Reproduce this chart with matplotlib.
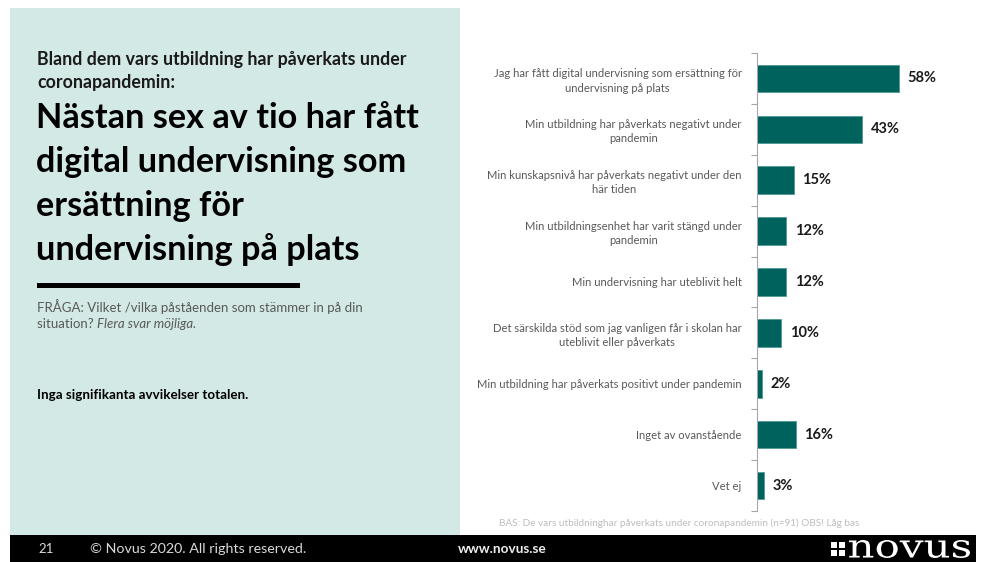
import matplotlib
matplotlib.use("Agg")
import matplotlib.pyplot as plt
from matplotlib.patches import Rectangle, PathPatch
from matplotlib.textpath import TextPath
from matplotlib.font_manager import FontProperties
from matplotlib.transforms import Affine2D

categories = [
    "Jag har fått digital undervisning som ersättning för\nundervisning på plats",
    "Min utbildning har påverkats negativt under\npandemin",
    "Min kunskapsnivå har påverkats negativt under den\nhär tiden",
    "Min utbildningsenhet har varit stängd under\npandemin",
    "Min undervisning har uteblivit helt",
    "Det särskilda stöd som jag vanligen får i skolan har\nuteblivit eller påverkats",
    "Min utbildning har påverkats positivt under pandemin",
    "Inget av ovanstående",
    "Vet ej",
]
values = [58, 43, 15, 12, 12, 10, 2, 16, 3]
value_labels = [f"{v}%" for v in values]

subtitle_lines = ["Bland dem vars utbildning har påverkats under", "coronapandemin:"]
title_lines = ["Nästan sex av tio har fått", "digital undervisning som",
               "ersättning för", "undervisning på plats"]
question_lines = ["FRÅGA: Vilket /vilka påståenden som stämmer in på din", "situation? "]
question_italic = "Flera svar möjliga."
note_text = "Inga signifikanta avvikelser totalen."
base_text = "BAS: De vars utbildninghar påverkats under coronapandemin (n=91) OBS! Låg bas"
logo_text = "novus"

FONT = ["Lato", "DejaVu Sans"]
plt.rcParams["font.family"] = FONT

W, H = 984, 562
fig = plt.figure(figsize=(W / 100, H / 100), dpi=100)
fig.patch.set_facecolor("white")

bg = fig.add_axes([0, 0, 1, 1])
bg.set_xlim(0, W)
bg.set_ylim(H, 0)
bg.axis("off")

bg.add_patch(Rectangle((10, 8), 450, 527, facecolor="#d3e9e6", edgecolor="none"))
bg.add_patch(Rectangle((10, 535), 966, 27, facecolor="black", edgecolor="none"))
bg.add_patch(Rectangle((37, 283), 263, 5, facecolor="black", edgecolor="none"))

for i, line in enumerate(subtitle_lines):
    bg.text(37, 65 + 23 * i, line, fontsize=12.8, fontweight="bold",
            color="#1a1a1a", va="baseline")
for i, line in enumerate(title_lines):
    bg.text(36, 128 + 44 * i, line, fontsize=24.7, fontweight="bold",
            color="black", va="baseline")
qt = None
for i, line in enumerate(question_lines):
    qt = bg.text(37, 312 + 16 * i, line, fontsize=9.5, color="#595959", va="baseline")
fig.canvas.draw()
ext = qt.get_window_extent()
bg.text(ext.x1, 328, question_italic, fontsize=9.5, style="italic",
        color="#595959", va="baseline")
bg.text(37, 399, note_text, fontsize=9.6, fontweight="bold", color="black", va="baseline")

bg.text(499, 526, base_text, fontsize=7.2, color="#bdbdbd", va="baseline")

# footer
bg.text(38, 553, "21", fontsize=9.5, color="#d9d9d9", va="baseline")
bg.text(90, 553, "© Novus 2020. All rights reserved.", fontsize=10.3, color="#d9d9d9", va="baseline")
bg.text(458, 553, "www.novus.se", fontsize=9.8, fontweight="bold", color="#eeeeee", va="baseline")
for dx in (0, 8):
    for dy in (0, 8):
        bg.add_patch(Rectangle((831 + dx, 542 + dy), 6, 6, facecolor="white", edgecolor="none"))
# logo word, stretched to fill its box
tp = TextPath((0, 0), logo_text, size=10, prop=FontProperties(family="DejaVu Serif"))
bb = tp.get_extents()
x0, x1, y0, y1 = 849, 970, 540, 558
tr = (Affine2D().translate(-bb.x0, -bb.y0)
      .scale((x1 - x0) / bb.width, -(y1 - y0) / bb.height)
      .translate(x0, y1))
bg.add_patch(PathPatch(tr.transform_path(tp), facecolor="white", edgecolor="none"))

# bar chart
ax_left, ax_top, ax_bottom = 757, 53, 511
ax_w = 220
ax = fig.add_axes([ax_left / W, 1 - ax_bottom / H, ax_w / W, (ax_bottom - ax_top) / H])
n = len(categories)
ypos = list(range(n))
ax.barh(ypos, values, height=0.54, color="#00625d", edgecolor="#4f9a96", linewidth=0.6)
ax.set_xlim(0, 90)
ax.set_ylim(n - 0.5, -0.5)
for y, v, lab in zip(ypos, values, value_labels):
    ax.annotate(lab, xy=(v, y), xytext=(6, 0), textcoords="offset points",
                va="center", ha="left", fontsize=10.5, fontweight="bold", color="#1a1a1a")

ax.set_yticks([i - 0.5 for i in range(n + 1)])
ax.set_yticklabels([])
ax.set_yticks(ypos, minor=True)
ax.set_yticklabels(categories, minor=True, fontsize=8.1, color="#595959",
                   multialignment="center", linespacing=1.35)
ax.tick_params(axis="y", which="major", length=4, color="#a6a6a6", width=0.8)
ax.tick_params(axis="y", which="minor", length=0, pad=11)
ax.set_xticks([])
for s in ("top", "right", "bottom"):
    ax.spines[s].set_visible(False)
ax.spines["left"].set_color("#a6a6a6")
ax.spines["left"].set_linewidth(0.8)
ax.patch.set_alpha(0)

fig.savefig("out.png", dpi=100)
